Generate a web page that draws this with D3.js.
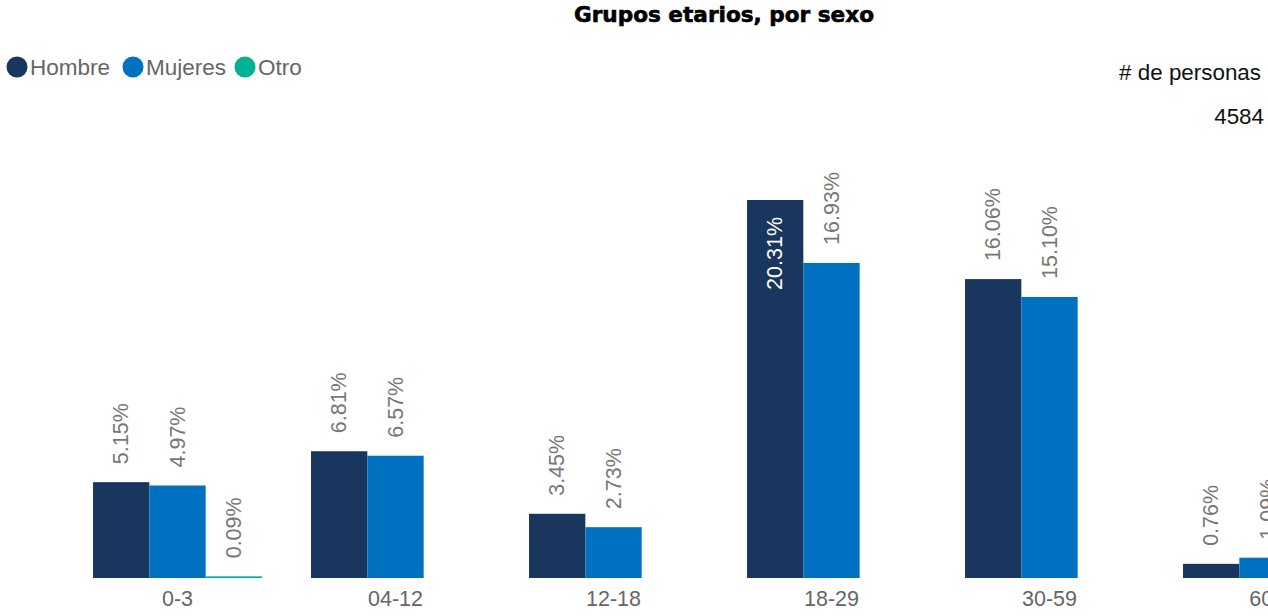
<!DOCTYPE html>
<html><head><meta charset="utf-8">
<script src="https://cdn.jsdelivr.net/npm/d3@7"></script>
<style>
html,body{margin:0;padding:0;background:#fff;overflow:hidden;}
svg{display:block;font-family:"Liberation Sans",Arial,sans-serif;}
</style></head>
<body>
<script>
const categories = ["0-3","04-12","12-18","18-29","30-59","60+"];
const seriesNames = ["Hombre","Mujeres","Otro"];
const hombre = [5.15,6.81,3.45,20.31,16.06,0.76];
const mujeres = [4.97,6.57,2.73,16.93,15.10,1.09];
const otro = [0.09,0,0,0,0,0];
const colors = ["#18365e","#0070c0","#00b294"];
const totalLabel = "# de personas";
const totalValue = "4584";

const W=1268,H=616;
const svg=d3.select("body").append("svg").attr("width",W).attr("height",H);

svg.append("text").attr("x",724).attr("y",22).attr("text-anchor","middle")
 .attr("font-size",21).attr("font-weight",900).attr("fill","#000")
 .attr("textLength",300).attr("lengthAdjust","spacingAndGlyphs")
 .attr("stroke","#000").attr("stroke-width",0.6)
 .style("font-family","'DejaVu Sans','Liberation Sans',sans-serif")
 .text("Grupos etarios, por sexo");

// legend
const legX=[17,133,245];
seriesNames.forEach((s,i)=>{
  svg.append("circle").attr("cx",legX[i]).attr("cy",67).attr("r",10.5).attr("fill",colors[i]);
  svg.append("text").attr("x",legX[i]+13).attr("y",75).attr("font-size",22.5).attr("fill","#666").text(s);
});

svg.append("text").attr("x",1261).attr("y",80).attr("text-anchor","end").attr("font-size",22.4).attr("fill","#111").text(totalLabel);
svg.append("text").attr("x",1264).attr("y",124).attr("text-anchor","end").attr("font-size",22.4).attr("fill","#111").text(totalValue);

const x=d3.scaleBand().domain(categories).range([68.5,68.5+218*categories.length]).paddingInner(0.225).paddingOuter(0.1125);
const xs=d3.scaleBand().domain(seriesNames).range([0,x.bandwidth()]);
const y=d3.scaleLinear().domain([0,20.31]).range([578,200]);

const data=[hombre,mujeres,otro];
const maxV=d3.max(hombre.concat(mujeres,otro));
categories.forEach((c,ci)=>{
  seriesNames.forEach((s,si)=>{
    const v=data[si][ci];
    if(!v) return;
    const bx=x(c)+xs(s), bw=xs.bandwidth();
    svg.append("rect").attr("x",bx).attr("y",y(v)).attr("width",bw).attr("height",y(0)-y(v)).attr("fill",colors[si]);
    const inside = v===maxV;
    const cx=bx+bw/2;
    const ty = inside ? y(v)+17 : y(v)-18;
    svg.append("text").attr("transform",`translate(${cx},${ty}) rotate(-90)`)
      .attr("text-anchor",inside?"end":"start").attr("dominant-baseline","central")
      .attr("font-size",21.5).attr("fill",inside?"#fff":"#777")
      .text(v.toFixed(2)+"%");
  });
});

const ax=svg.append("g").attr("transform","translate(0,578)").call(d3.axisBottom(x).tickSize(0).tickPadding(13));
ax.select(".domain").remove();
ax.selectAll("text").attr("font-size",21.5).attr("fill","#666").style("font-family","'Liberation Sans',Arial,sans-serif");
</script>
</body></html>
